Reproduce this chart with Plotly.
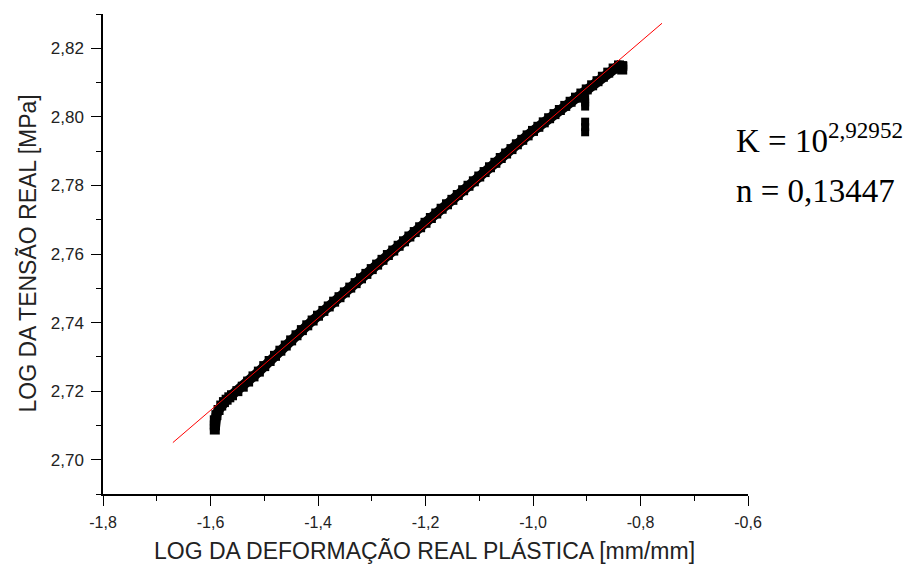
import plotly.graph_objects as go

# ---- data ----
data_x = [
    -1.592, -1.592, -1.592, -1.589, -1.585, -1.580, -1.575, -1.570, -1.565, -1.560,
    -1.55, -1.54, -1.53, -1.52, -1.51, -1.50, -1.49, -1.48, -1.47, -1.46,
    -1.45, -1.44, -1.43, -1.42, -1.41, -1.40, -1.39, -1.38, -1.37, -1.36,
    -1.35, -1.34, -1.33, -1.32, -1.31, -1.30, -1.29, -1.28, -1.27, -1.26,
    -1.25, -1.24, -1.23, -1.22, -1.21, -1.20, -1.19, -1.18, -1.17, -1.16,
    -1.15, -1.14, -1.13, -1.12, -1.11, -1.10, -1.09, -1.08, -1.07, -1.06,
    -1.05, -1.04, -1.03, -1.02, -1.01, -1.00, -0.99, -0.98, -0.97, -0.96,
    -0.95, -0.94, -0.93, -0.92, -0.91, -0.90, -0.89, -0.88, -0.87, -0.86,
    -0.85, -0.84, -0.834, -0.834,
]
data_y = [
    2.7088, 2.7100, 2.7115, 2.7130, 2.7145, 2.7158, 2.7168, 2.7175, 2.7182, 2.7188,
    2.7200, 2.7213, 2.7228, 2.7243, 2.7257, 2.7273, 2.7288, 2.7303, 2.7318, 2.7333,
    2.7348, 2.7363, 2.7378, 2.7392, 2.7406, 2.7420, 2.7434, 2.7447, 2.7461, 2.7474,
    2.7488, 2.7502, 2.7515, 2.7529, 2.7542, 2.7556, 2.7569, 2.7583, 2.7597, 2.7610,
    2.7624, 2.7637, 2.7651, 2.7664, 2.7678, 2.7691, 2.7705, 2.7718, 2.7732, 2.7745,
    2.7758, 2.7772, 2.7786, 2.7799, 2.7812, 2.7826, 2.7839, 2.7853, 2.7866, 2.7880,
    2.7893, 2.7906, 2.7920, 2.7933, 2.7946, 2.7959, 2.7971, 2.7984, 2.7996, 2.8008,
    2.8020, 2.8032, 2.8044, 2.8056, 2.8068, 2.8080, 2.8092, 2.8104, 2.8117, 2.8129,
    2.8141, 2.8150, 2.8148, 2.8138,
]
# short vertical run of points near x = -0.90 (two separated pieces)
drop_x = [-0.903, -0.903, -0.903, -0.903, -0.903, -0.903]
drop_y = [2.8052, 2.8042, 2.8030, 2.7986, 2.7970, 2.7955]

fit_x = [-1.67, -0.76]
fit_y = [2.7050, 2.8273]

x_tickvals = [-1.8, -1.6, -1.4, -1.2, -1.0, -0.8, -0.6]
x_ticktext = ["-1,8", "-1,6", "-1,4", "-1,2", "-1,0", "-0,8", "-0,6"]
x_minorvals = [-1.7, -1.5, -1.3, -1.1, -0.9, -0.7]

y_tickvals = [2.70, 2.72, 2.74, 2.76, 2.78, 2.80, 2.82]
y_ticktext = ["2,70", "2,72", "2,74", "2,76", "2,78", "2,80", "2,82"]
y_minorvals = [2.69, 2.71, 2.73, 2.75, 2.77, 2.79, 2.81, 2.83]

x_title = "LOG DA DEFORMAÇÃO REAL PLÁSTICA [mm/mm]"
y_title = "LOG DA TENSÃO REAL [MPa]"
k_text = "K = 10<sup>2,92952</sup>"
n_text = "n = 0,13447"

fig = go.Figure()
fig.add_trace(go.Scatter(
    x=data_x, y=data_y, mode="lines+markers",
    line=dict(color="black", width=10),
    marker=dict(symbol="square", size=10, color="black", line=dict(width=0)),
    showlegend=False, hoverinfo="skip",
))
fig.add_trace(go.Scatter(
    x=drop_x, y=drop_y, mode="markers",
    marker=dict(symbol="square", size=8, color="black", line=dict(width=0)),
    showlegend=False, hoverinfo="skip",
))
fig.add_trace(go.Scatter(
    x=fit_x, y=fit_y, mode="lines",
    line=dict(color="red", width=1),
    showlegend=False, hoverinfo="skip",
))

axis_common = dict(
    showline=True, linecolor="black", linewidth=1.5,
    ticks="outside", ticklen=10, tickwidth=1.3, tickcolor="black",
    showgrid=False, zeroline=False, mirror=False,
)

fig.update_xaxes(
    range=[-1.8, -0.6], tickmode="array", tickvals=x_tickvals, ticktext=x_ticktext,
    tickfont=dict(family="Liberation Sans", size=16, color="#222"),
    minor=dict(tickmode="array", tickvals=x_minorvals, ticks="outside", ticklen=5,
               tickwidth=1.3, tickcolor="black", showgrid=False),
    ticklabelstandoff=3,
    **axis_common,
)
fig.update_yaxes(
    range=[2.69, 2.83], tickmode="array", tickvals=y_tickvals, ticktext=y_ticktext,
    tickfont=dict(family="Liberation Sans", size=17, color="#222"),
    minor=dict(tickmode="array", tickvals=y_minorvals, ticks="outside", ticklen=5,
               tickwidth=1.3, tickcolor="black", showgrid=False),
    ticklabelstandoff=4,
    **axis_common,
)

fig.update_layout(
    width=913, height=566,
    margin=dict(l=103, r=165, t=14, b=72, autoexpand=False),
    plot_bgcolor="white", paper_bgcolor="white",
    annotations=[
        dict(text=x_title, xref="paper", yref="paper", x=0.4984, y=-0.119,
             xanchor="center", yanchor="middle", showarrow=False,
             font=dict(family="Liberation Sans", size=23, color="#222")),
        dict(text=y_title, xref="paper", yref="paper", x=-0.117, y=0.5,
             xanchor="center", yanchor="middle", showarrow=False, textangle=-90,
             font=dict(family="Liberation Sans", size=23, color="#222")),
        dict(text=k_text, xref="paper", yref="paper", x=0.979, y=0.742,
             xanchor="left", yanchor="middle", showarrow=False,
             font=dict(family="Liberation Serif", size=33, color="black")),
        dict(text=n_text, xref="paper", yref="paper", x=0.979, y=0.632,
             xanchor="left", yanchor="middle", showarrow=False,
             font=dict(family="Liberation Serif", size=33, color="black")),
    ],
)

fig.write_html("out.html")
